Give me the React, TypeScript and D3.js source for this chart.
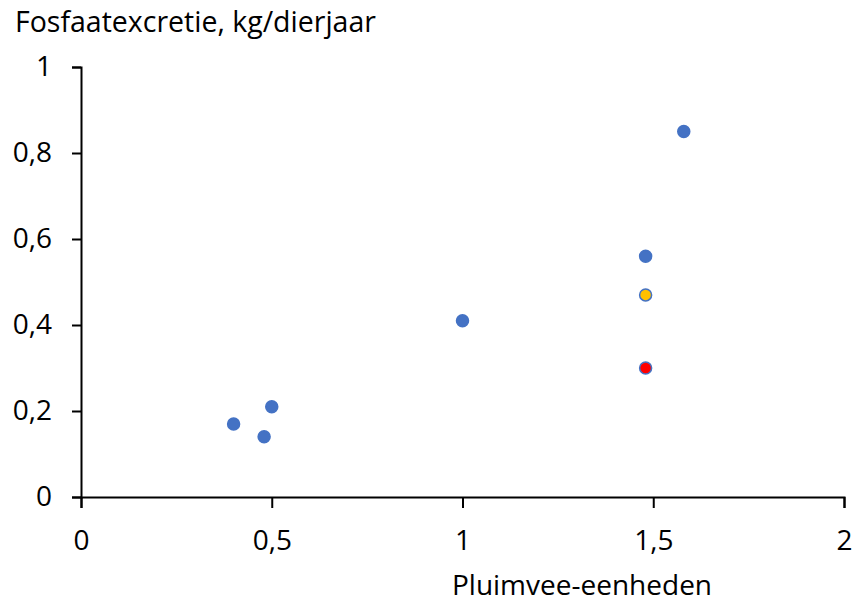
import { useEffect, useRef } from "react";
import * as d3 from "d3";

// pluimvee-eenheden vs fosfaatexcretie
const xValues = [0.4, 0.48, 0.5, 1.0, 1.48, 1.48, 1.48, 1.58];
const yValues = [0.17, 0.14, 0.21, 0.41, 0.56, 0.47, 0.3, 0.85];
const fills = ["#4472C4", "#4472C4", "#4472C4", "#4472C4", "#4472C4", "#FFC000", "#FF0000", "#4472C4"];
const xTicks = [0, 0.5, 1, 1.5, 2];
const yTicks = [0, 0.2, 0.4, 0.6, 0.8, 1];

const fmt = (v: number) => String(v).replace(".", ",");

export default function App() {
  const ref = useRef<SVGSVGElement | null>(null);

  useEffect(() => {
    if (!ref.current) return;
    const svg = d3.select(ref.current);
    svg.selectAll("*").remove();

    const width = 853;
    const height = 603;
    const font = "'Open Sans', sans-serif";

    const x = d3.scaleLinear().domain([0, 2]).range([81, 844]);
    const y = d3.scaleLinear().domain([0, 1]).range([497, 67]);

    svg.append("rect").attr("width", width).attr("height", height).attr("fill", "#fff");

    const xAxis = svg.append("g")
      .attr("transform", `translate(0,${y(0)})`)
      .call(d3.axisBottom(x).tickValues(xTicks).tickFormat(d => fmt(+d)).tickSize(11).tickPadding(22));
    const yAxis = svg.append("g")
      .attr("transform", `translate(${x(0)},0)`)
      .call(d3.axisLeft(y).tickValues(yTicks).tickFormat(d => fmt(+d)).tickSize(9).tickPadding(20));

    [xAxis, yAxis].forEach(g => {
      g.select(".domain").attr("stroke", "#000").attr("stroke-width", 2);
      g.selectAll(".tick line").attr("stroke", "#000").attr("stroke-width", 2);
      g.selectAll(".tick text")
        .attr("fill", "#000")
        .style("font-family", font)
        .style("font-size", "28px");
    });

    svg.append("g")
      .selectAll("circle")
      .data(xValues.map((v, i) => ({ x: v, y: yValues[i], fill: fills[i] })))
      .join("circle")
      .attr("cx", d => x(d.x))
      .attr("cy", d => y(d.y))
      .attr("r", 6)
      .attr("fill", d => d.fill)
      .attr("stroke", "#4472C4")
      .attr("stroke-width", 1.5);

    svg.append("text")
      .attr("x", 15)
      .attr("y", 32)
      .attr("fill", "#000")
      .style("font-family", font)
      .style("font-size", "28.5px")
      .text("Fosfaatexcretie, kg/dierjaar");

    svg.append("text")
      .attr("x", 582)
      .attr("y", 595)
      .attr("text-anchor", "middle")
      .attr("fill", "#000")
      .style("font-family", font)
      .style("font-size", "28px")
      .text("Pluimvee-eenheden");
  }, []);

  return <svg ref={ref} width={853} height={603} style={{ position: "absolute", left: 0, top: 0 }} />;
}
